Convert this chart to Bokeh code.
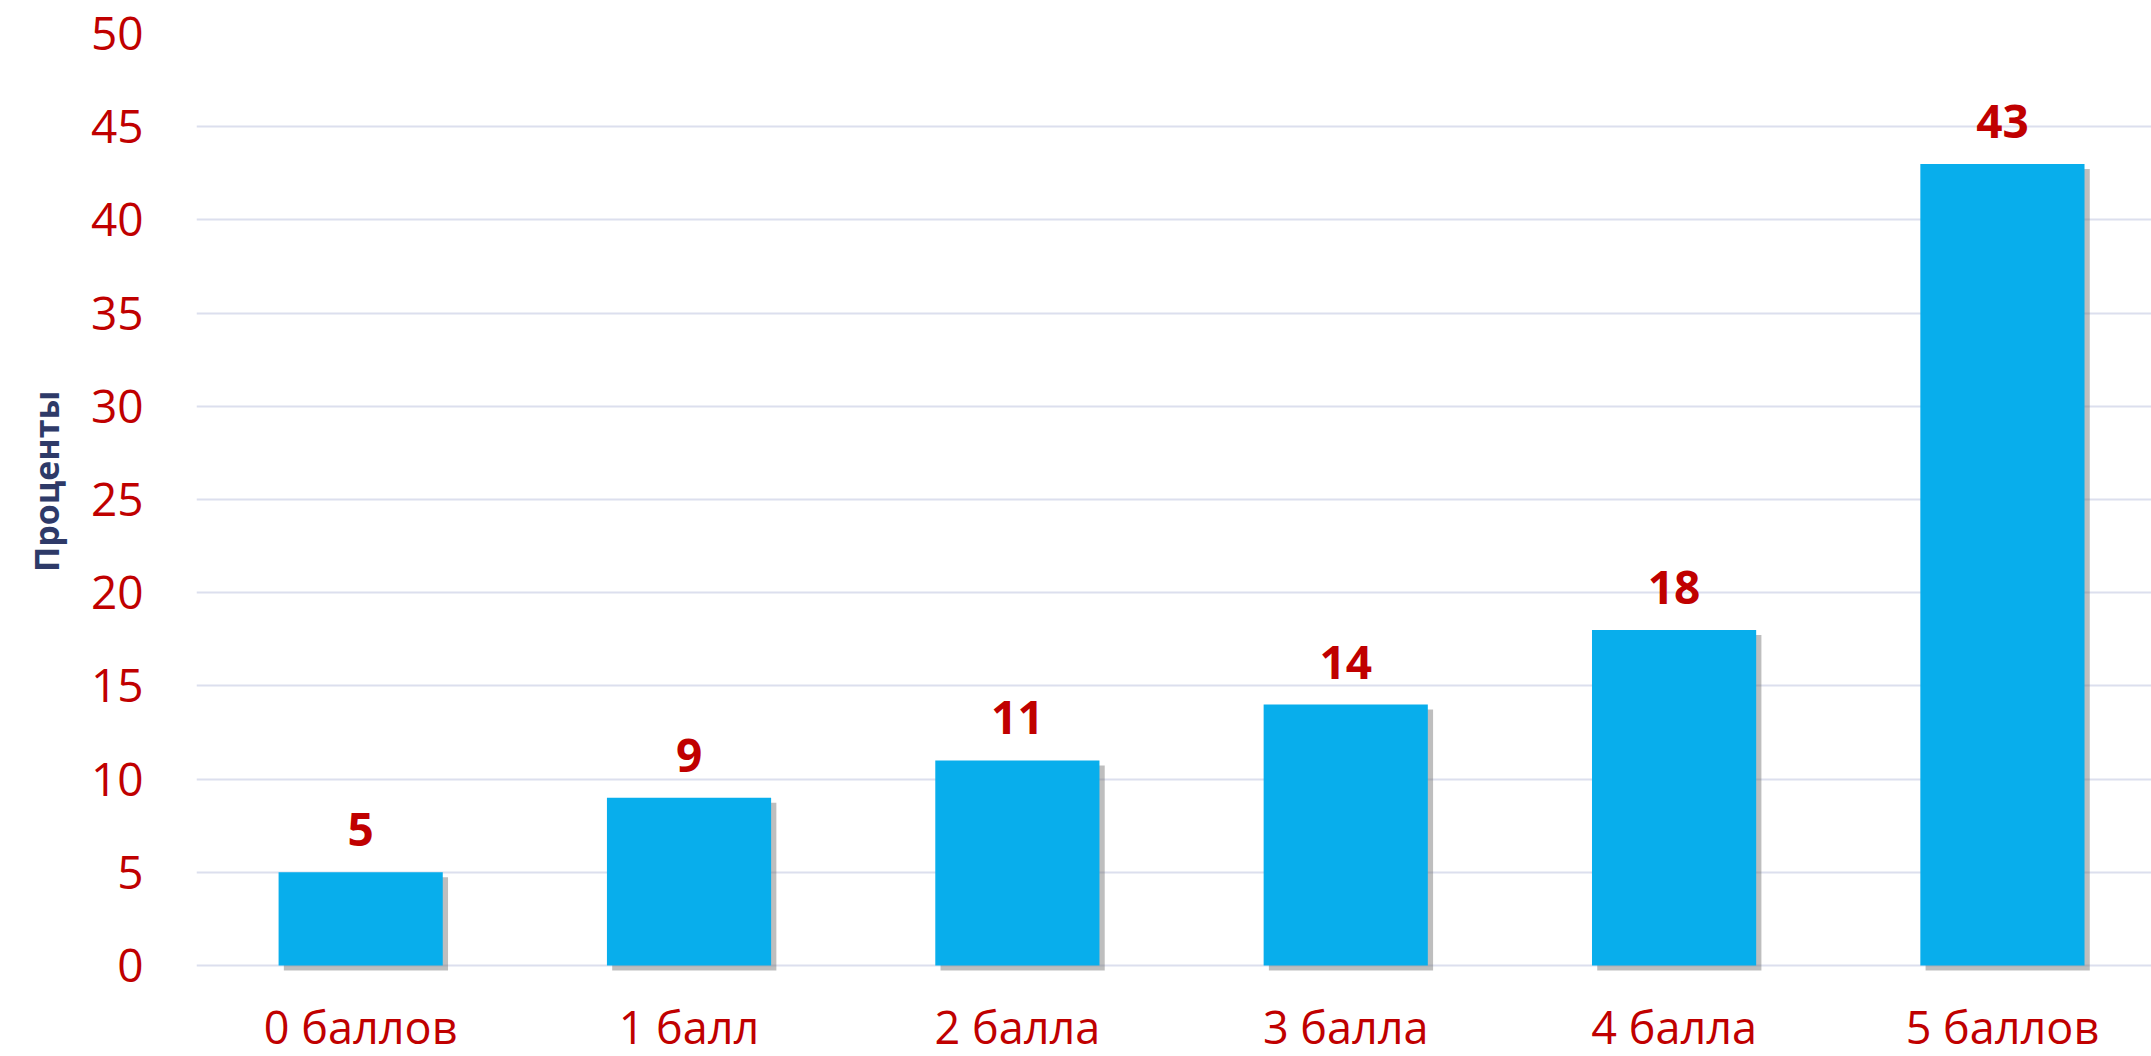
from bokeh.plotting import figure
from bokeh.models import Range1d, FixedTicker, ColumnDataSource, Title
from bokeh.core.properties import value
from bokeh.embed import file_html
from bokeh.resources import INLINE

categories = ["0 баллов", "1 балл", "2 балла", "3 балла", "4 балла", "5 баллов"]
percents = [5, 9, 11, 14, 18, 43]
y_ticks = [0, 5, 10, 15, 20, 25, 30, 35, 40, 45, 50]
y_title = "Проценты"

xs = list(range(len(categories)))
bar_w = 0.5
sh_dx = 0.016   # shadow offset (x units)
sh_dy = 0.27    # shadow offset (y units)
src = ColumnDataSource(dict(
    x=xs, top=percents, label=[str(v) for v in percents], cat=categories,
    base=[0] * len(xs),
    sl=[x - bar_w / 2 + sh_dx for x in xs], sr=[x + bar_w / 2 + sh_dx for x in xs],
    st=[v - sh_dy for v in percents], sb=[-sh_dy] * len(xs)))

# frame runs below zero so the category names can be drawn under the bars
p = figure(width=2151, height=1056, output_backend="svg", toolbar_location=None,
           x_range=Range1d(-0.5, 5.454), y_range=Range1d(-4.882, 50),
           min_border_left=196, min_border_right=0, min_border_top=33, min_border_bottom=0)
p.outline_line_color = None
p.background_fill_color = "white"

p.quad(left="sl", right="sr", top="st", bottom="sb", source=src,
       fill_color="#6f6f6f", fill_alpha=0.45, line_color=None)
p.vbar(x="x", top="top", bottom=0, width=bar_w, source=src, fill_color="#08AEEC",
       line_color=None)
p.text(x="x", y="top", text="label", source=src, text_align="center",
       text_baseline="bottom", y_offset=-26, text_color="#C00000",
       text_font=value("Open Sans"), text_font_style="bold", text_font_size="46px")
p.text(x="x", y="base", text="cat", source=src, text_align="center",
       text_baseline="middle", y_offset=61, text_color="#C00000",
       text_font=value("Open Sans"), text_font_size="45px")

p.xgrid.grid_line_color = None
p.ygrid.grid_line_color = "#DCDFEE"
p.ygrid.grid_line_width = 2
p.ygrid.ticker = FixedTicker(ticks=y_ticks)

p.yaxis.ticker = FixedTicker(ticks=y_ticks)
p.yaxis.axis_line_color = None
p.yaxis.major_tick_line_color = None
p.yaxis.minor_tick_line_color = None
p.yaxis.major_label_text_color = "#C00000"
p.yaxis.major_label_text_font = "Open Sans"
p.yaxis.major_label_text_font_size = "46px"
p.yaxis.major_label_standoff = 47

t = Title(text=y_title, align="right", offset=357, text_font="Open Sans",
          text_font_style="bold", text_font_size="34px", text_color="#2E3A68",
          standoff=37)
p.add_layout(t, "left")

p.xaxis.visible = False

open("out.html", "w").write(file_html(p, INLINE))
